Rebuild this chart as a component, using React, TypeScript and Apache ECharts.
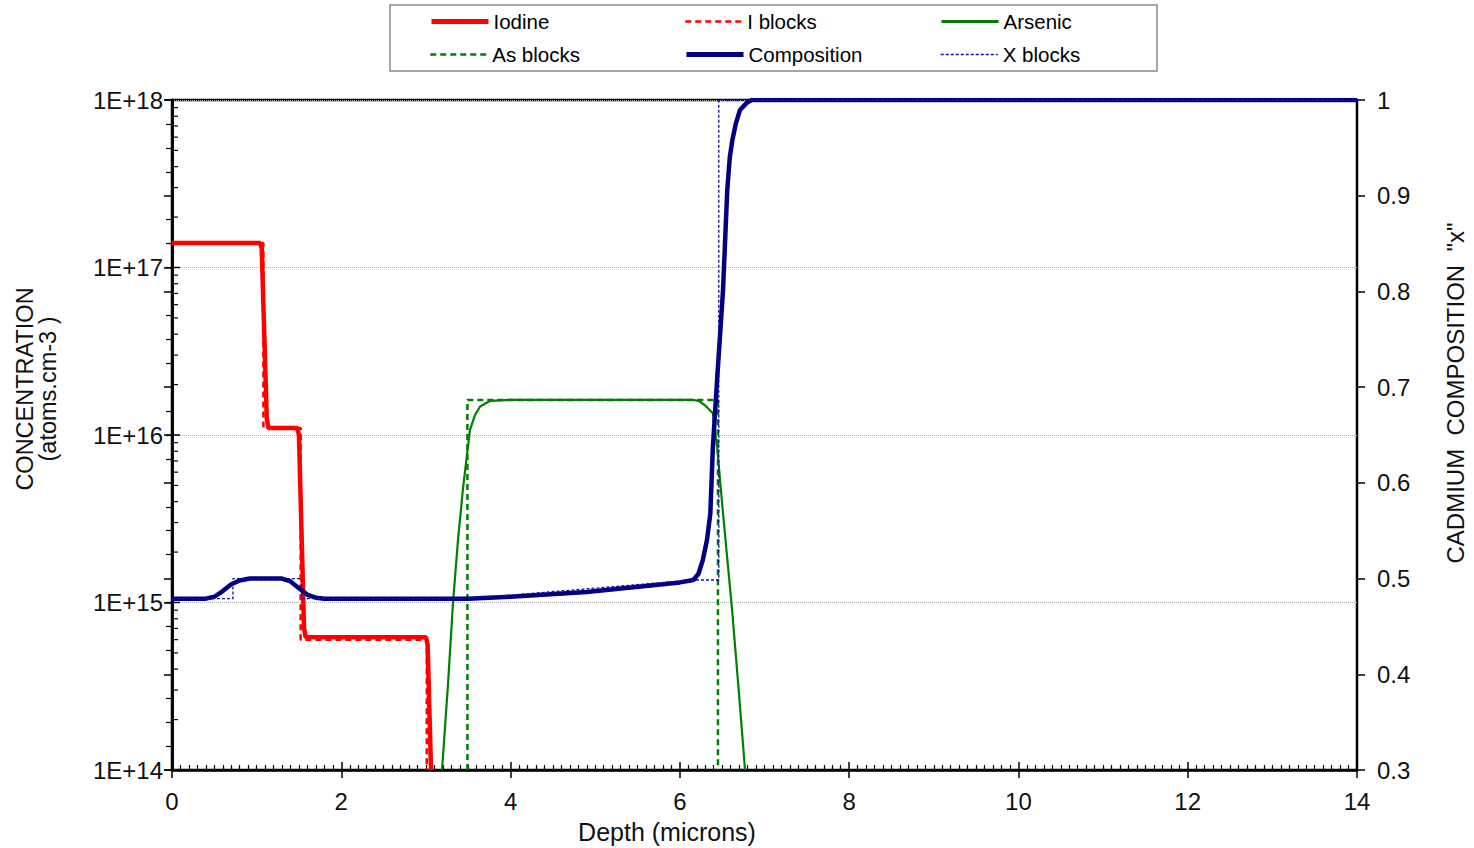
import React, { useEffect, useRef } from "react";
import * as echarts from "echarts";

// ---------- data ----------
const depthRange = [0, 14];
const concRange = [1e14, 1e18];
const compRange = [0.3, 1];

const iodine: [number, number][] = [
  [0, 1.4e17], [1.04, 1.4e17], [1.06, 1.3e17], [1.12, 1.25e16], [1.14, 1.1e16],
  [1.48, 1.1e16], [1.5, 1.0e16], [1.56, 7e14], [1.58, 6.2e14], [3.0, 6.2e14],
  [3.02, 5.6e14], [3.06, 1e14],
];
const iBlocks: [number, number][] = [
  [0, 1.4e17], [1.08, 1.4e17], [1.08, 1.1e16], [1.52, 1.1e16], [1.52, 6e14],
  [3.01, 6e14], [3.01, 1e14],
];
const arsenic: [number, number][] = [
  [3.19, 1e14], [3.26, 3.2e14], [3.32, 1e15], [3.38, 2.4e15], [3.44, 4.9e15],
  [3.52, 1.07e16], [3.58, 1.32e16], [3.64, 1.48e16], [3.76, 1.6e16], [4.0, 1.62e16],
  [6.15, 1.62e16], [6.22, 1.6e16], [6.3, 1.5e16], [6.39, 1.35e16], [6.44, 8.5e15],
  [6.51, 3.4e15], [6.62, 8.7e14], [6.7, 2.8e14], [6.77, 1e14],
];
const asBlocks: [number, number][] = [
  [3.49, 1e14], [3.49, 1.62e16], [6.45, 1.62e16], [6.45, 1e14],
];
const composition: [number, number][] = [
  [0, 0.479], [0.4, 0.479], [0.5, 0.481], [0.6, 0.487], [0.7, 0.494], [0.8, 0.498],
  [0.92, 0.5], [1.3, 0.5], [1.4, 0.497], [1.5, 0.49], [1.6, 0.483], [1.7, 0.48],
  [1.8, 0.479], [3.5, 0.479], [4.0, 0.481], [4.9, 0.486], [6.0, 0.496], [6.16, 0.4985],
  [6.22, 0.505], [6.27, 0.519], [6.32, 0.54], [6.36, 0.568], [6.39, 0.637],
  [6.44, 0.7075], [6.51, 0.8015], [6.56, 0.906], [6.59, 0.94], [6.62, 0.958],
  [6.66, 0.975], [6.71, 0.9895], [6.79, 0.997], [6.85, 1], [14, 1],
];
const xBlocks: [number, number][] = [
  [0, 0.479], [0.72, 0.479], [0.72, 0.5], [1.53, 0.5], [1.53, 0.479], [3.5, 0.479],
  [6.16, 0.4985], [6.46, 0.4985], [6.46, 1], [14, 1],
];

const legendNames = ["Iodine", "I blocks", "Arsenic", "As blocks", "Composition", "X blocks"];
const axisTitles = {
  x: "Depth (microns)",
  left: "CONCENTRATION\n(atoms.cm-3 )",
  right: "CADMIUM  COMPOSITION  \"x\"",
};

// log-axis inner tick marks (decoration): mantissas 1..9 for decades 14..17
const logMantissas = [1, 2, 3, 4, 5, 6, 7, 8, 9];
const logDecades = [14, 15, 16, 17];

const FONT = "'Liberation Sans', Arial, sans-serif";

const RED = "#ff0000";
const GREEN = "#008000";
const NAVY = "#000080";
const BLUE = "#1010a0";

export default function App() {
  const ref = useRef<HTMLDivElement>(null);
  useEffect(() => {
    const chart = echarts.init(ref.current!, null, { renderer: "svg" });

    const tickData: [number, number, number][] = [];
    logDecades.forEach((d) =>
      logMantissas.forEach((m) => {
        if (m === 1 && d === 14) return;
        tickData.push([0, m * Math.pow(10, d), m === 1 ? 8 : 6]);
      })
    );

    const labelStyle = { color: "#111", fontSize: 24, fontFamily: FONT };
    const legendItems = [
      { left: 429, top: 11, line: { color: RED, width: 5, type: "solid" } },
      { left: 684, top: 11, line: { color: RED, width: 2.5, type: [6, 4] } },
      { left: 940, top: 11, line: { color: GREEN, width: 3, type: "solid" } },
      { left: 429, top: 44, line: { color: GREEN, width: 2.5, type: [6, 4] } },
      { left: 684, top: 44, line: { color: NAVY, width: 5, type: "solid" } },
      { left: 940, top: 44, line: { color: BLUE, width: 1.5, type: [3, 2] } },
    ];

    chart.setOption({
      animation: false,
      backgroundColor: "#fff",
      grid: {
        left: 172, right: 117, top: 100, bottom: 78,
        show: true, borderColor: "#000", borderWidth: 2.5, backgroundColor: "#fff",
      },
      legend: legendItems.map((p, i) => ({
        data: [legendNames[i]],
        left: p.left, top: p.top, padding: 0,
        itemWidth: 57, itemHeight: 18,
        itemStyle: { opacity: 0 },
        lineStyle: { ...p.line },
        textStyle: { color: "#000", fontSize: 20.5, fontFamily: FONT },
        selectedMode: false,
      })),
      graphic: [
        {
          type: "rect", z: -1,
          shape: { x: 390, y: 5, width: 767, height: 66 },
          style: { fill: "#fff", stroke: "#8a8a8a", lineWidth: 1.5 },
        },
        {
          type: "text", x: 667, y: 832,
          style: { text: axisTitles.x, fill: "#111", font: `25px ${FONT}`, align: "center", verticalAlign: "middle" },
        },
        {
          type: "text", x: 36, y: 389, rotation: Math.PI / 2,
          style: { text: axisTitles.left, fill: "#111", font: `23.5px ${FONT}`, align: "center", verticalAlign: "middle", lineHeight: 23 },
        },
        {
          type: "text", x: 1455, y: 393, rotation: Math.PI / 2,
          style: { text: axisTitles.right, fill: "#111", font: `24px ${FONT}`, align: "center", verticalAlign: "middle" },
        },
      ],
      xAxis: [
        {
          type: "value", min: depthRange[0], max: depthRange[1], interval: 2,
          axisLine: { show: true, lineStyle: { color: "#000", width: 2.5 } },
          axisTick: { show: true, inside: true, length: 8, lineStyle: { color: "#000", width: 1.5 } },
          minorTick: { show: true, splitNumber: 20, length: 5, lineStyle: { color: "#000", width: 1.2 } },
          axisLabel: { ...labelStyle, margin: 19 },
          splitLine: { show: false },
        },
        {
          type: "value", min: depthRange[0], max: depthRange[1], interval: 2, position: "bottom",
          axisLine: { show: false },
          axisTick: { show: true, inside: false, length: 8, lineStyle: { color: "#000", width: 1.5 } },
          axisLabel: { show: false },
          splitLine: { show: false },
        },
      ],
      yAxis: [
        {
          type: "log", logBase: 10, min: concRange[0], max: concRange[1], position: "left",
          axisLine: { show: true, lineStyle: { color: "#000", width: 2.5 } },
          axisTick: { show: true, inside: false, length: 8, lineStyle: { color: "#000", width: 1.5 } },
          axisLabel: {
            ...labelStyle, margin: 9,
            formatter: (v: number) => "1E+" + Math.round(Math.log10(v)),
          },
          splitLine: { show: true, lineStyle: { color: "#b0b0b0", type: "dotted", width: 1 } },
        },
        {
          type: "value", min: compRange[0], max: compRange[1], interval: 0.1, position: "right",
          axisLine: { show: true, lineStyle: { color: "#000", width: 2.5 } },
          axisTick: { show: true, inside: true, length: 8, lineStyle: { color: "#000", width: 1.5 } },
          minorTick: { show: true, splitNumber: 4, length: 6, lineStyle: { color: "#000", width: 1.2 } },
          axisLabel: { ...labelStyle, margin: 20, formatter: (v: number) => String(+v.toFixed(1)) },
          splitLine: { show: false },
        },
        {
          type: "value", min: compRange[0], max: compRange[1], interval: 0.1, position: "right",
          axisLine: { show: false },
          axisTick: { show: true, inside: false, length: 8, lineStyle: { color: "#000", width: 1.5 } },
          axisLabel: { show: false },
          splitLine: { show: false },
        },
      ],
      series: [
        {
          type: "custom", name: "logticks", yAxisIndex: 0, silent: true, clip: false,
          data: tickData,
          encode: { x: 0, y: 1 },
          renderItem: (params: any, api: any) => {
            const p = api.coord([api.value(0), api.value(1)]);
            const len = api.value(2);
            return {
              type: "line",
              shape: { x1: p[0], y1: p[1], x2: p[0] + len, y2: p[1] },
              style: { stroke: "#000", lineWidth: len > 7 ? 1.5 : 1.2 },
            };
          },
        },
        {
          name: "I blocks", type: "line", data: iBlocks, yAxisIndex: 0,
          symbol: "none", showSymbol: false,
          lineStyle: { color: RED, width: 2.5, type: [6, 4] }, itemStyle: { color: RED },
        },
        {
          name: "As blocks", type: "line", data: asBlocks, yAxisIndex: 0,
          symbol: "none", showSymbol: false,
          lineStyle: { color: GREEN, width: 2.5, type: [6, 4] }, itemStyle: { color: GREEN },
        },
        {
          name: "Iodine", type: "line", data: iodine, yAxisIndex: 0,
          symbol: "none", showSymbol: false,
          lineStyle: { color: RED, width: 4.5 }, itemStyle: { color: RED },
        },
        {
          name: "Arsenic", type: "line", data: arsenic, yAxisIndex: 0,
          symbol: "none", showSymbol: false,
          lineStyle: { color: GREEN, width: 2.2 }, itemStyle: { color: GREEN },
        },
        {
          name: "Composition", type: "line", data: composition, yAxisIndex: 1,
          symbol: "none", showSymbol: false,
          lineStyle: { color: NAVY, width: 4.5 }, itemStyle: { color: NAVY },
        },
        {
          name: "X blocks", type: "line", data: xBlocks, yAxisIndex: 1,
          symbol: "none", showSymbol: false,
          lineStyle: { color: BLUE, width: 1.3, type: [3, 2] }, itemStyle: { color: BLUE },
        },
      ],
    });
    return () => chart.dispose();
  }, []);
  return (
    <div
      ref={ref}
      style={{ position: "fixed", left: 0, top: 0, width: 1474, height: 848, background: "#fff" }}
    />
  );
}
